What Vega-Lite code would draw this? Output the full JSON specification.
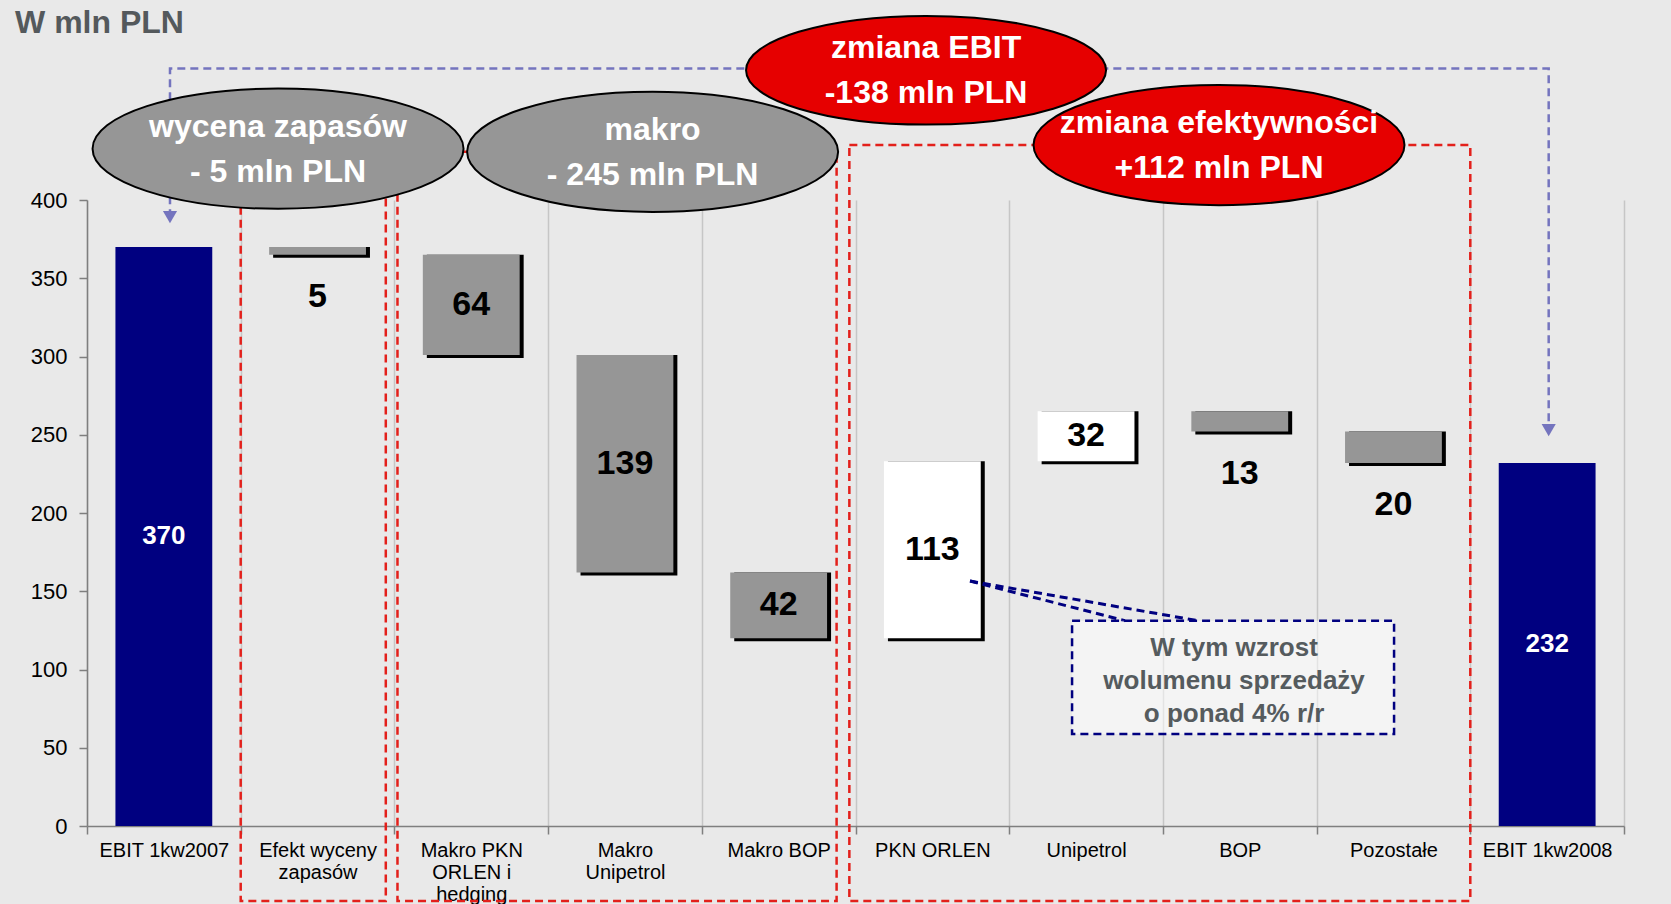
{
  "$schema": "https://vega.github.io/schema/vega-lite/v6.json",
  "width": 1537,
  "height": 626,
  "autosize": "none",
  "padding": {"left": 87, "top": 200, "right": 47, "bottom": 78},
  "background": "#E9E9E9",
  "config": {
    "view": {"stroke": null},
    "font": "Liberation Sans",
    "axisY": {"tickCount": 8, "labelFontSize": 22, "labelColor": "black", "grid": false, "tickSize": 8, "labelPadding": 12, "domainColor": "#7F7F7F", "domainWidth": 1.5, "tickColor": "#7F7F7F", "tickWidth": 1.5}
  },
  "datasets": {
    "bars": [
      {"cat": "EBIT 1kw2007", "lo": 0, "hi": 370, "kind": "total", "label": "370"},
      {"cat": "Efekt wyceny zapasów", "lo": 365, "hi": 370, "kind": "neg", "label": "5"},
      {"cat": "Makro PKN ORLEN i hedging", "lo": 301, "hi": 365, "kind": "neg", "label": "64"},
      {"cat": "Makro Unipetrol", "lo": 162, "hi": 301, "kind": "neg", "label": "139"},
      {"cat": "Makro BOP", "lo": 120, "hi": 162, "kind": "neg", "label": "42"},
      {"cat": "PKN ORLEN", "lo": 120, "hi": 233, "kind": "pos", "label": "113"},
      {"cat": "Unipetrol", "lo": 233, "hi": 265, "kind": "pos", "label": "32"},
      {"cat": "BOP", "lo": 252, "hi": 265, "kind": "neg", "label": "13"},
      {"cat": "Pozostałe", "lo": 232, "hi": 252, "kind": "neg", "label": "20"},
      {"cat": "EBIT 1kw2008", "lo": 0, "hi": 232, "kind": "total", "label": "232"}
    ],
    "boxes": [
      {"id": "A", "u1": 1.0, "u2": 1.944, "vtop": 432.8, "vbot": -48},
      {"id": "B", "u1": 2.02, "u2": 4.877, "vtop": 430.8, "vbot": -48},
      {"id": "C", "u1": 4.96, "u2": 9.0, "vtop": 435.1, "vbot": -48}
    ],
    "arrow": [
      {"seq": 1, "u": 0.54, "v": 389},
      {"seq": 2, "u": 0.54, "v": 484},
      {"seq": 3, "u": 9.51, "v": 484},
      {"seq": 4, "u": 9.51, "v": 253}
    ],
    "heads": [
      {"u": 0.54, "v": 389},
      {"u": 9.51, "v": 253}
    ],
    "ellipses": [
      {"id": "wycena", "u": 1.243, "v": 432.8, "txt": "wycena zapasów\n- 5 mln PLN"},
      {"id": "makro", "u": 3.68, "v": 430.8, "txt": "makro\n- 245 mln PLN"},
      {"id": "ebit", "u": 5.459, "v": 482.9, "txt": "zmiana EBIT\n-138 mln PLN"},
      {"id": "efekt", "u": 7.365, "v": 435.1, "txt": "zmiana efektywności\n+112 mln PLN"}
    ],
    "title": [{"u": -0.468, "v": 506.7, "txt": "W mln PLN"}],
    "leaders": [
      {"u1": 5.745, "v1": 156.5, "u2": 6.753, "v2": 131.2},
      {"u1": 5.745, "v1": 156.5, "u2": 7.228, "v2": 131.2}
    ],
    "callout": [
      {"u1": 6.409, "u2": 8.504, "v1": 131.2, "v2": 58.8, "uc": 7.463, "vc": 92.4, "txt": "W tym wzrost\nwolumenu sprzedaży\no ponad 4% r/r"}
    ]
  },
  "resolve": {"scale": {"x": "independent"}},
  "layer": [
    {
      "data": {"name": "boxes"},
      "mark": {"type": "rect", "fill": "transparent", "stroke": "#E3201B", "strokeWidth": 2.5, "strokeDash": [8, 5]},
      "encoding": {
        "x": {"field": "u1", "type": "quantitative", "scale": {"domain": [0, 10], "nice": false, "zero": false}, "axis": null},
        "x2": {"field": "u2"},
        "y": {"field": "vtop", "type": "quantitative", "scale": {"domain": [0, 400], "nice": false}, "axis": {"title": null}},
        "y2": {"field": "vbot"}
      }
    },
    {
      "data": {"name": "arrow"},
      "mark": {"type": "line", "color": "#7474BE", "strokeWidth": 2.5, "strokeDash": [8, 5]},
      "encoding": {
        "x": {"field": "u", "type": "quantitative", "scale": {"domain": [0, 10], "nice": false, "zero": false}, "axis": null},
        "y": {"field": "v", "type": "quantitative", "scale": {"domain": [0, 400], "nice": false}, "axis": {"title": null}},
        "order": {"field": "seq"}
      }
    },
    {
      "data": {"name": "heads"},
      "mark": {"type": "point", "shape": "triangle-down", "filled": true, "opacity": 1, "color": "#7474BE", "size": 200},
      "encoding": {
        "x": {"field": "u", "type": "quantitative", "scale": {"domain": [0, 10], "nice": false, "zero": false}, "axis": null},
        "y": {"field": "v", "type": "quantitative", "scale": {"domain": [0, 400], "nice": false}, "axis": {"title": null}}
      }
    },
    {
      "data": {"name": "ellipses"},
      "mark": {"type": "point", "filled": true, "opacity": 1, "stroke": "black", "strokeWidth": 2},
      "encoding": {
        "x": {"field": "u", "type": "quantitative", "scale": {"domain": [0, 10], "nice": false, "zero": false}, "axis": null},
        "y": {"field": "v", "type": "quantitative", "scale": {"domain": [0, 400], "nice": false}, "axis": {"title": null}},
        "fill": {"condition": {"test": "datum.id == 'ebit' || datum.id == 'efekt'", "value": "#E60000"}, "value": "#969696"},
        "shape": {"condition": {"test": "datum.id == 'ebit'", "value": "M-1,0C-1,-0.167,-0.552,-0.302,0,-0.302C0.552,-0.302,1,-0.167,1,0C1,0.167,0.552,0.302,0,0.302C-0.552,0.302,-1,0.167,-1,0Z"}, "value": "M-1,0C-1,-0.179,-0.552,-0.324,0,-0.324C0.552,-0.324,1,-0.179,1,0C1,0.179,0.552,0.324,0,0.324C-0.552,0.324,-1,0.179,-1,0Z"},
        "size": {"condition": {"test": "datum.id == 'ebit'", "value": 129600}, "value": 137641}
      }
    },
    {
      "data": {"name": "ellipses"},
      "mark": {"type": "text", "lineBreak": "\n", "lineHeight": 45, "fontSize": 32, "fontWeight": "bold", "color": "white", "baseline": "middle", "align": "center", "dy": -22},
      "encoding": {
        "x": {"field": "u", "type": "quantitative", "scale": {"domain": [0, 10], "nice": false, "zero": false}, "axis": null},
        "y": {"field": "v", "type": "quantitative", "scale": {"domain": [0, 400], "nice": false}, "axis": {"title": null}},
        "text": {"field": "txt"}
      }
    },
    {
      "data": {"name": "title"},
      "mark": {"type": "text", "fontSize": 32, "fontWeight": "bold", "color": "#54595C", "baseline": "alphabetic", "align": "left"},
      "encoding": {
        "x": {"field": "u", "type": "quantitative", "scale": {"domain": [0, 10], "nice": false, "zero": false}, "axis": null},
        "y": {"field": "v", "type": "quantitative", "scale": {"domain": [0, 400], "nice": false}, "axis": {"title": null}},
        "text": {"field": "txt"}
      }
    },
    {
      "data": {"name": "bars"},
      "encoding": {
        "x": {
          "field": "cat", "type": "nominal",
          "sort": ["EBIT 1kw2007", "Efekt wyceny zapasów", "Makro PKN ORLEN i hedging", "Makro Unipetrol", "Makro BOP", "PKN ORLEN", "Unipetrol", "BOP", "Pozostałe", "EBIT 1kw2008"],
          "scale": {"paddingInner": 0, "paddingOuter": 0},
          "axis": {
            "title": null, "labelAngle": 0, "labelFontSize": 20, "labelColor": "black", "labelLineHeight": 22,
            "labelPadding": 6, "labelLimit": 400, "tickBand": "extent", "grid": true, "gridColor": "#C6C6C6", "gridWidth": 1.5,
            "domainColor": "#7F7F7F", "domainWidth": 1.5, "tickColor": "#7F7F7F", "tickWidth": 1.5, "tickSize": 8,
            "labelExpr": "datum.value == 'Efekt wyceny zapasów' ? ['Efekt wyceny', 'zapasów'] : datum.value == 'Makro PKN ORLEN i hedging' ? ['Makro PKN', 'ORLEN i', 'hedging'] : datum.value == 'Makro Unipetrol' ? ['Makro', 'Unipetrol'] : datum.label"
          }
        }
      },
      "layer": [
        {
          "transform": [{"filter": "datum.kind != 'total'"}],
          "mark": {"type": "bar", "color": "black", "width": {"band": 0.63}, "xOffset": 4, "yOffset": 3},
          "encoding": {
            "y": {"field": "lo", "type": "quantitative", "scale": {"domain": [0, 400], "nice": false}, "axis": {"title": null}},
            "y2": {"field": "hi"}
          }
        },
        {
          "mark": {"type": "bar", "width": {"band": 0.63}},
          "encoding": {
            "y": {"field": "lo", "type": "quantitative", "scale": {"domain": [0, 400], "nice": false}, "axis": {"title": null}},
            "y2": {"field": "hi"},
            "color": {"field": "kind", "type": "nominal", "scale": {"domain": ["total", "neg", "pos"], "range": ["#000080", "#969696", "#FFFFFF"]}, "legend": null}
          }
        },
        {
          "transform": [
            {"filter": "datum.hi - datum.lo >= 25"},
            {"fold": ["lo", "hi"], "as": ["k", "val"]}
          ],
          "mark": {"type": "text", "fontWeight": "bold", "baseline": "middle", "align": "center"},
          "encoding": {
            "y": {"aggregate": "mean", "field": "val", "type": "quantitative", "scale": {"domain": [0, 400], "nice": false}, "axis": {"title": null}},
            "text": {"field": "label", "type": "nominal"},
            "detail": {"field": "kind", "type": "nominal"},
            "color": {"condition": {"test": "datum.kind == 'total'", "value": "white"}, "value": "black"},
            "size": {"condition": {"test": "datum.kind == 'total'", "value": 26}, "value": 34}
          }
        },
        {
          "transform": [{"filter": "datum.hi - datum.lo < 25"}],
          "mark": {"type": "text", "fontWeight": "bold", "fontSize": 34, "baseline": "middle", "align": "center", "dy": 42, "color": "black"},
          "encoding": {
            "y": {"field": "lo", "type": "quantitative", "scale": {"domain": [0, 400], "nice": false}, "axis": {"title": null}},
            "text": {"field": "label", "type": "nominal"}
          }
        }
      ]
    },
    {
      "data": {"name": "leaders"},
      "mark": {"type": "rule", "color": "#000080", "strokeWidth": 3, "strokeDash": [8, 5]},
      "encoding": {
        "x": {"field": "u1", "type": "quantitative", "scale": {"domain": [0, 10], "nice": false, "zero": false}, "axis": null},
        "x2": {"field": "u2"},
        "y": {"field": "v1", "type": "quantitative", "scale": {"domain": [0, 400], "nice": false}, "axis": {"title": null}},
        "y2": {"field": "v2"}
      }
    },
    {
      "data": {"name": "callout"},
      "mark": {"type": "rect", "fill": "white", "fillOpacity": 0.5, "stroke": "#000080", "strokeWidth": 2.5, "strokeDash": [8, 5]},
      "encoding": {
        "x": {"field": "u1", "type": "quantitative", "scale": {"domain": [0, 10], "nice": false, "zero": false}, "axis": null},
        "x2": {"field": "u2"},
        "y": {"field": "v1", "type": "quantitative", "scale": {"domain": [0, 400], "nice": false}, "axis": {"title": null}},
        "y2": {"field": "v2"}
      }
    },
    {
      "data": {"name": "callout"},
      "mark": {"type": "text", "lineBreak": "\n", "lineHeight": 33, "fontSize": 26, "fontWeight": "bold", "color": "#555B5E", "baseline": "middle", "align": "center", "dy": -33},
      "encoding": {
        "x": {"field": "uc", "type": "quantitative", "scale": {"domain": [0, 10], "nice": false, "zero": false}, "axis": null},
        "y": {"field": "vc", "type": "quantitative", "scale": {"domain": [0, 400], "nice": false}, "axis": {"title": null}},
        "text": {"field": "txt"}
      }
    }
  ]
}
